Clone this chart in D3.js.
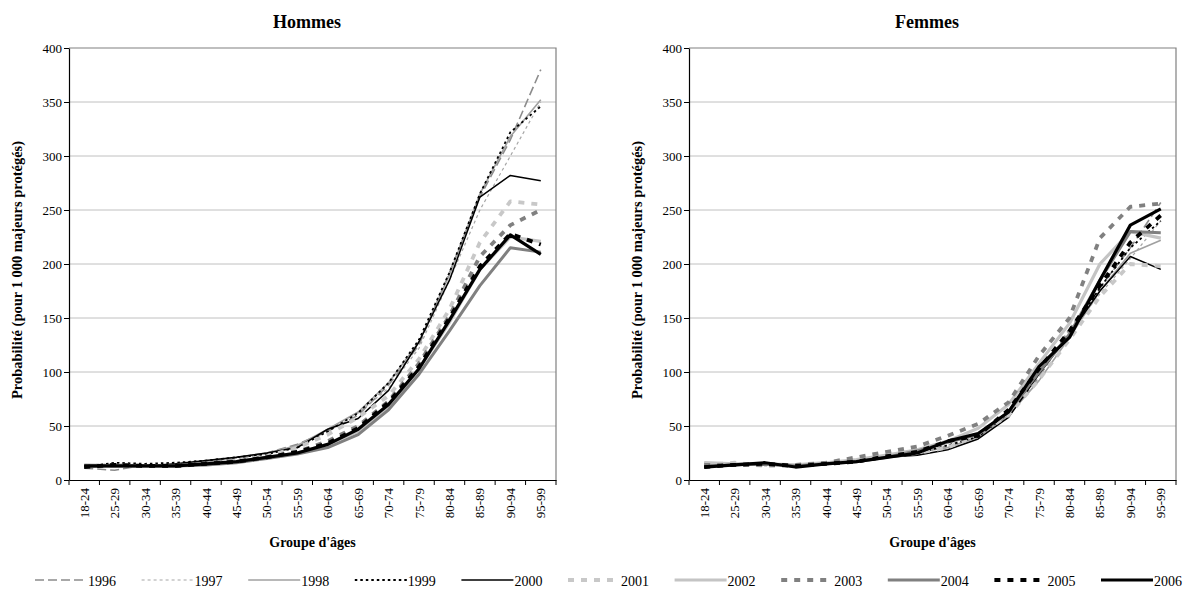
<!DOCTYPE html>
<html>
<head>
<meta charset="utf-8">
<script src="https://cdn.jsdelivr.net/npm/d3@7"></script>
<style>
  html, body { margin: 0; padding: 0; background: #fff; }
  svg { display: block; font-family: "Liberation Serif", "Times New Roman", serif; }
</style>
</head>
<body>
<svg id="chart" width="1184" height="592"></svg>
<script>
// Age groups and years
const ageGroups = ["18-24","25-29","30-34","35-39","40-44","45-49","50-54","55-59",
                   "60-64","65-69","70-74","75-79","80-84","85-89","90-94","95-99"];
const years = ["1996","1997","1998","1999","2000","2001","2002","2003","2004","2005","2006"];
const yTicks = [0,50,100,150,200,250,300,350,400];

// Hommes : probabilité pour 1 000 majeurs protégés
const h1996 = [11, 9,14,13,16,20,25,33,45,60,88,125,192,262,315,380];
const h1997 = [14,15,14,14,17,20,24,31,47,62,85,122,185,250,300,350];
const h1998 = [13,13,14,14,17,21,25,32,47,63,90,128,190,265,318,352];
const h1999 = [12,16,15,16,18,21,24,30,45,62,90,130,192,265,322,346];
const h2000 = [12,13,13,15,18,21,25,30,47,57,83,128,185,262,282,277];
const h2001 = [13,13,13,13,15,17,22,30,42,58,78,112,158,220,258,255];
const h2002 = [14,13,13,13,15,17,21,25,33,45,68,103,146,195,225,221];
const h2003 = [12,14,13,13,15,17,21,26,36,50,73,108,152,207,236,250];
const h2004 = [13,13,13,13,14,16,20,24,30,42,65, 98,138,180,215,211];
const h2005 = [12,14,13,13,15,17,21,26,34,48,72,105,150,198,228,218];
const h2006 = [13,13,13,13,15,17,21,25,33,47,70,103,148,195,227,209];

// Femmes
const f1996 = [15,14,14,13,15,18,22,26,30,40,60, 95,140,178,215,257];
const f1997 = [14,15,13,14,15,18,22,25,32,42,62, 98,138,172,205,240];
const f1998 = [16,14,15,13,15,18,22,26,30,40,60, 92,132,175,210,222];
const f1999 = [13,14,15,13,15,17,21,25,32,40,62,100,135,178,215,240];
const f2000 = [12,14,14,13,15,17,21,23,28,38,58, 98,135,175,207,195];
const f2001 = [14,16,13,13,15,17,22,25,30,42,60, 93,130,170,200,198];
const f2002 = [16,15,15,14,16,19,23,28,36,48,70,108,145,200,230,224];
const f2003 = [14,14,14,14,16,21,26,31,41,52,72,115,150,224,253,256];
const f2004 = [13,14,15,13,15,17,21,27,35,42,63,100,135,185,230,229];
const f2005 = [12,14,15,13,15,17,22,26,36,41,65,103,138,180,220,245];
const f2006 = [12,14,16,12,15,17,21,25,36,43,63,105,132,185,236,251];

const hommes = [h1996,h1997,h1998,h1999,h2000,h2001,h2002,h2003,h2004,h2005,h2006];
const femmes = [f1996,f1997,f1998,f1999,f2000,f2001,f2002,f2003,f2004,f2005,f2006];

// Line style for each year
const lineStyles = [
  {color:"#8c8c8c", width:1.6, dash:"9,4"},
  {color:"#a6a6a6", width:1.2, dash:"3,3"},
  {color:"#a0a0a0", width:1.6, dash:null},
  {color:"#000000", width:1.8, dash:"2.5,3"},
  {color:"#000000", width:1.5, dash:null},
  {color:"#c8c8c8", width:3.8, dash:"6,7"},
  {color:"#c4c4c4", width:3.2, dash:null},
  {color:"#808080", width:3.8, dash:"6,7"},
  {color:"#808080", width:3.0, dash:null},
  {color:"#000000", width:3.8, dash:"6,7"},
  {color:"#000000", width:3.2, dash:null}
];

const svg = d3.select("#chart");
const yTop = 48, yBottom = 480;

const panels = [
  {title:"Hommes", left:69,  right:556,  data:hommes, titleX:307, yLabelX:18},
  {title:"Femmes", left:689, right:1176, data:femmes, titleX:927, yLabelX:638}
];

const y = d3.scaleLinear().domain([0,400]).range([yBottom, yTop]);

panels.forEach(p => {
  const g = svg.append("g");
  const x = d3.scaleBand().domain(ageGroups).range([p.left, p.right]).padding(0);
  const cx = a => x(a) + x.bandwidth()/2;

  // grid lines
  g.selectAll("line.grid").data(yTicks.filter(t => t > 0 && t < 400)).enter()
    .append("line")
    .attr("x1", p.left).attr("x2", p.right)
    .attr("y1", d => y(d)).attr("y2", d => y(d))
    .attr("stroke", "#c0c0c0").attr("stroke-width", 1);

  // frame: top and right edges
  g.append("path")
    .attr("d", `M${p.left},${y(400)}H${p.right}V${y(0)}`)
    .attr("fill", "none").attr("stroke", "#808080").attr("stroke-width", 1.2);

  // series
  const line = d3.line().x((d,i) => cx(ageGroups[i])).y(d => y(d));
  p.data.forEach((vals, k) => {
    const s = lineStyles[k];
    g.append("path")
      .datum(vals)
      .attr("d", line)
      .attr("fill", "none")
      .attr("stroke", s.color)
      .attr("stroke-width", s.width)
      .attr("stroke-dasharray", s.dash)
      .attr("stroke-linejoin", "round");
  });

  // y axis
  const yAxis = g.append("g")
    .attr("transform", `translate(${p.left},0)`)
    .call(d3.axisLeft(y).tickValues(yTicks).tickSize(5).tickSizeOuter(0));
  yAxis.select(".domain").attr("stroke", "#000").attr("stroke-width", 1.2);
  yAxis.selectAll(".tick line").attr("stroke", "#000");
  yAxis.selectAll(".tick text")
    .attr("font-family", "Liberation Serif").attr("font-size", 13).attr("fill", "#000")
    .attr("x", -7);

  // x axis: ticks at band boundaries, labels centred in each band
  const xAxis = g.append("g")
    .attr("transform", `translate(0,${yBottom})`)
    .call(d3.axisBottom(x).tickSize(0).tickSizeOuter(0));
  xAxis.select(".domain").attr("stroke", "#000").attr("stroke-width", 1.2);
  xAxis.selectAll(".tick text")
    .attr("font-family", "Liberation Serif").attr("font-size", 13).attr("fill", "#000")
    .attr("transform", "rotate(-90)")
    .attr("text-anchor", "end")
    .attr("dy", "0.35em")
    .attr("x", -8).attr("y", 0);
  const bounds = ageGroups.map(a => x(a)).concat([p.right]);
  xAxis.selectAll("line.bt").data(bounds).enter().append("line")
    .attr("x1", d => d).attr("x2", d => d)
    .attr("y1", 0).attr("y2", 5)
    .attr("stroke", "#000");

  // titles
  g.append("text")
    .attr("x", p.titleX).attr("y", 28)
    .attr("text-anchor", "middle")
    .attr("font-size", 18).attr("font-weight", "bold")
    .text(p.title);

  g.append("text")
    .attr("x", (p.left + p.right)/2).attr("y", 547)
    .attr("text-anchor", "middle")
    .attr("font-size", 14).attr("font-weight", "bold")
    .text("Groupe d'âges");

  g.append("text")
    .attr("transform", `translate(${p.yLabelX + 4},${270}) rotate(-90)`)
    .attr("text-anchor", "middle")
    .attr("font-size", 14.5).attr("font-weight", "bold")
    .text("Probabilité (pour 1 000 majeurs protégés)");
});

// legend
const legend = svg.append("g");
years.forEach((yr, k) => {
  const s = lineStyles[k];
  const x0 = 35 + k * 106.6;
  legend.append("line")
    .attr("x1", x0).attr("x2", x0 + 52)
    .attr("y1", 580).attr("y2", 580)
    .attr("stroke", s.color)
    .attr("stroke-width", s.width)
    .attr("stroke-dasharray", s.dash);
  legend.append("text")
    .attr("x", x0 + 53).attr("y", 586)
    .attr("font-size", 14)
    .attr("font-family", "Liberation Serif")
    .text(yr);
});
</script>
</body>
</html>
